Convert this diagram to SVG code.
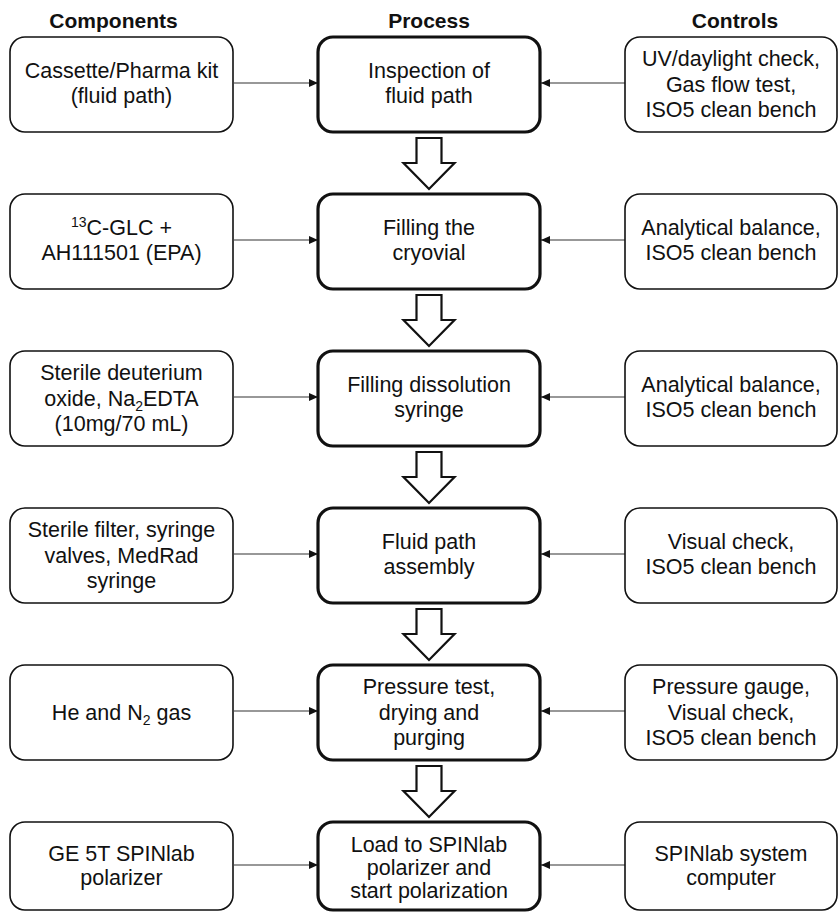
<svg xmlns="http://www.w3.org/2000/svg" width="840" height="912" viewBox="0 0 840 912">
<style>
text{font-family:"Liberation Sans",Arial,Helvetica,sans-serif;font-size:21.5px;fill:#111;text-anchor:middle}
.hdr{font-weight:bold;font-size:21px}
.box{fill:#fff;stroke:#111;stroke-width:1.6}
.proc{fill:#fff;stroke:#111;stroke-width:3.2}
.conn{stroke:#333;stroke-width:1.2;fill:none;marker-end:url(#ah)}
.big{fill:#fff;stroke:#111;stroke-width:2.2;stroke-linejoin:miter}
.s{font-size:14px}
</style>
<defs>
<marker id="ah" markerWidth="10" markerHeight="10" refX="9" refY="4" orient="auto" markerUnits="userSpaceOnUse">
<path d="M0,0 L9,4 L0,8 Z" fill="#111"/>
</marker>
</defs>
<rect width="840" height="912" fill="#fff"/>
<g id="headers">
<text class="hdr" x="113.5" y="28">Components</text>
<text class="hdr" x="429" y="28">Process</text>
<text class="hdr" x="735" y="28">Controls</text>
</g>
<g id="connectors">
<line class="conn" x1="234" y1="83" x2="318" y2="83"/>
<line class="conn" x1="625" y1="83" x2="541" y2="83"/>
<line class="conn" x1="234" y1="240" x2="318" y2="240"/>
<line class="conn" x1="625" y1="240" x2="541" y2="240"/>
<line class="conn" x1="234" y1="397" x2="318" y2="397"/>
<line class="conn" x1="625" y1="397" x2="541" y2="397"/>
<line class="conn" x1="234" y1="554" x2="318" y2="554"/>
<line class="conn" x1="625" y1="554" x2="541" y2="554"/>
<line class="conn" x1="234" y1="711" x2="318" y2="711"/>
<line class="conn" x1="625" y1="711" x2="541" y2="711"/>
<line class="conn" x1="234" y1="865" x2="318" y2="865"/>
<line class="conn" x1="625" y1="865" x2="541" y2="865"/>
<path class="big" d="M416.5,138 H441.5 V163 H454.5 L429,189 L403.5,163 H416.5 Z"/>
<path class="big" d="M416.5,295 H441.5 V320 H454.5 L429,346 L403.5,320 H416.5 Z"/>
<path class="big" d="M416.5,452 H441.5 V477 H454.5 L429,503 L403.5,477 H416.5 Z"/>
<path class="big" d="M416.5,609 H441.5 V634 H454.5 L429,660 L403.5,634 H416.5 Z"/>
<path class="big" d="M416.5,766 H441.5 V791 H454.5 L429,817 L403.5,791 H416.5 Z"/>
</g>
<!-- Row 1 -->
<g id="c1"><rect class="box" x="10" y="37" width="223" height="95" rx="15"/>
<text x="121.5" y="77.5">Cassette/Pharma kit</text><text x="121.5" y="103">(fluid path)</text></g>
<g id="p1"><rect class="proc" x="318" y="37" width="222" height="95" rx="15"/>
<text x="429" y="77.5">Inspection of</text><text x="429" y="103">fluid path</text></g>
<g id="k1"><rect class="box" x="625" y="37" width="212" height="95" rx="15"/>
<text x="731" y="66">UV/daylight check,</text><text x="731" y="91.5">Gas flow test,</text><text x="731" y="117">ISO5 clean bench</text></g>
<!-- Row 2 -->
<g id="c2"><rect class="box" x="10" y="194" width="223" height="95" rx="15"/>
<text x="121.5" y="234.5"><tspan class="s" dy="-8">13</tspan><tspan dy="8">C-GLC +</tspan></text><text x="121.5" y="260">AH111501 (EPA)</text></g>
<g id="p2"><rect class="proc" x="318" y="194" width="222" height="95" rx="15"/>
<text x="429" y="234.5">Filling the</text><text x="429" y="260">cryovial</text></g>
<g id="k2"><rect class="box" x="625" y="194" width="212" height="95" rx="15"/>
<text x="731" y="234.5">Analytical balance,</text><text x="731" y="260">ISO5 clean bench</text></g>
<!-- Row 3 -->
<g id="c3"><rect class="box" x="10" y="351" width="223" height="95" rx="15"/>
<text x="121.5" y="380">Sterile deuterium</text><text x="121.5" y="405.5">oxide, Na<tspan class="s" dy="5">2</tspan><tspan dy="-5">EDTA</tspan></text><text x="121.5" y="431">(10mg/70 mL)</text></g>
<g id="p3"><rect class="proc" x="318" y="351" width="222" height="95" rx="15"/>
<text x="429" y="391.5">Filling dissolution</text><text x="429" y="417">syringe</text></g>
<g id="k3"><rect class="box" x="625" y="351" width="212" height="95" rx="15"/>
<text x="731" y="391.5">Analytical balance,</text><text x="731" y="417">ISO5 clean bench</text></g>
<!-- Row 4 -->
<g id="c4"><rect class="box" x="10" y="508" width="223" height="95" rx="15"/>
<text x="121.5" y="537">Sterile filter, syringe</text><text x="121.5" y="562.5">valves, MedRad</text><text x="121.5" y="588">syringe</text></g>
<g id="p4"><rect class="proc" x="318" y="508" width="222" height="95" rx="15"/>
<text x="429" y="548.5">Fluid path</text><text x="429" y="574">assembly</text></g>
<g id="k4"><rect class="box" x="625" y="508" width="212" height="95" rx="15"/>
<text x="731" y="548.5">Visual check,</text><text x="731" y="574">ISO5 clean bench</text></g>
<!-- Row 5 -->
<g id="c5"><rect class="box" x="10" y="665" width="223" height="95" rx="15"/>
<text x="121.5" y="720">He and N<tspan class="s" dy="5">2</tspan><tspan dy="-5"> gas</tspan></text></g>
<g id="p5"><rect class="proc" x="318" y="665" width="222" height="95" rx="15"/>
<text x="429" y="694">Pressure test,</text><text x="429" y="719.5">drying and</text><text x="429" y="745">purging</text></g>
<g id="k5"><rect class="box" x="625" y="665" width="212" height="95" rx="15"/>
<text x="731" y="694">Pressure gauge,</text><text x="731" y="719.5">Visual check,</text><text x="731" y="745">ISO5 clean bench</text></g>
<!-- Row 6 -->
<g id="c6"><rect class="box" x="10" y="822" width="223" height="88" rx="15"/>
<text x="121.5" y="861">GE 5T SPINlab</text><text x="121.5" y="885">polarizer</text></g>
<g id="p6"><rect class="proc" x="318" y="822" width="222" height="88" rx="15"/>
<text x="429" y="851.5">Load to SPINlab</text><text x="429" y="874.5">polarizer and</text><text x="429" y="897.5">start polarization</text></g>
<g id="k6"><rect class="box" x="625" y="822" width="212" height="88" rx="15"/>
<text x="731" y="861">SPINlab system</text><text x="731" y="885">computer</text></g>
</svg>
